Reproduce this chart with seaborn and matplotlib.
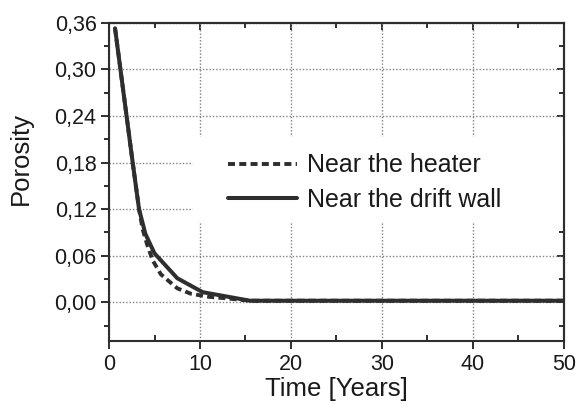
import matplotlib
matplotlib.use("Agg")
import matplotlib.pyplot as plt
import seaborn as sns
from matplotlib.patches import Rectangle
from matplotlib.ticker import MultipleLocator

# Porosity evolution of the buffer over time (years)
heater_t = [0.66, 2.6, 3.3, 3.7, 4.2, 4.8, 5.7, 7.5, 9.0, 11.0, 13.0, 15.5, 50.0]
heater_p = [0.353, 0.18, 0.12, 0.094, 0.074, 0.054, 0.036, 0.018, 0.011, 0.007, 0.005, 0.002, 0.002]

wall_t = [0.66, 2.6, 3.3, 4.0, 5.0, 7.5, 10.3, 15.5, 50.0]
wall_p = [0.353, 0.18, 0.12, 0.088, 0.063, 0.031, 0.013, 0.002, 0.002]

series_labels = ["Near the heater", "Near the drift wall"]
x_ticks = [0, 10, 20, 30, 40, 50]
y_ticks = [0.00, 0.06, 0.12, 0.18, 0.24, 0.30, 0.36]
y_tick_labels = [f"{v:.2f}".replace(".", ",") for v in y_ticks]

sns.set_theme(style="ticks")
plt.rcParams["font.family"] = ["Liberation Sans", "DejaVu Sans"]

ink = "#2e2e2e"
text_color = "#1a1a1a"

fig = plt.figure(figsize=(5.8, 4.08), dpi=100)
ax = fig.add_axes([0.188, 0.164, 0.784, 0.780])
ax.set_axisbelow(True)
ax.grid(True, which="major", color="#808080", linestyle=(0, (1, 1.4)), linewidth=1.0)

sns.lineplot(x=heater_t, y=heater_p, ax=ax, color=ink, linewidth=2.8,
             linestyle=(0, (1.8, 1.1)), zorder=3, legend=False)
sns.lineplot(x=wall_t, y=wall_p, ax=ax, color=ink, linewidth=2.9,
             zorder=4, legend=False)

# white panel behind the legend text (hides the grid there)
ax.add_patch(Rectangle((9.2, 0.1016), 41.0, 0.111, facecolor="white",
                       edgecolor="none", zorder=1))

ax.legend(handles=ax.lines[:2], labels=series_labels, loc="upper left",
          bbox_to_anchor=(0.2615, 0.590), frameon=False, borderpad=0,
          borderaxespad=0, handlelength=2.76, handletextpad=0.4,
          labelspacing=0.42, fontsize=18, labelcolor=text_color)

ax.set_xlim(0, 50)
ax.set_ylim(-0.05, 0.36)
ax.set_xticks(x_ticks)
ax.set_yticks(y_ticks)
ax.set_yticklabels(y_tick_labels)
ax.xaxis.set_minor_locator(MultipleLocator(5))
ax.yaxis.set_minor_locator(MultipleLocator(0.03))

ax.tick_params(axis="both", which="major", direction="out", length=6, width=1.4,
               labelsize=15.5, colors=text_color, color=ink)
ax.tick_params(axis="x", which="major", pad=3)
ax.tick_params(axis="y", which="major", pad=3)
ax.tick_params(axis="x", which="minor", direction="in", length=4, width=1.4, color=ink)
ax.tick_params(axis="y", which="minor", direction="out", length=3.5, width=1.4, color=ink)

for spine in ax.spines.values():
    spine.set_linewidth(1.5)
    spine.set_color(ink)

# inward ticks along the top and right edges
top = ax.secondary_xaxis("top")
top.set_xticks(x_ticks)
top.xaxis.set_minor_locator(MultipleLocator(5))
top.tick_params(axis="x", which="both", direction="in", labeltop=False, width=1.4, color=ink)
top.tick_params(axis="x", which="major", length=5)
top.tick_params(axis="x", which="minor", length=3.5)
top.spines["top"].set_linewidth(1.5)
top.spines["top"].set_color(ink)

right = ax.secondary_yaxis("right")
right.set_yticks(y_ticks)
right.yaxis.set_minor_locator(MultipleLocator(0.03))
right.tick_params(axis="y", which="both", direction="in", labelright=False, width=1.4, color=ink)
right.tick_params(axis="y", which="major", length=5)
right.tick_params(axis="y", which="minor", length=3.5)
right.spines["right"].set_linewidth(1.5)
right.spines["right"].set_color(ink)

ax.set_xlabel("Time [Years]", fontsize=18.5, color=text_color, labelpad=2)
ax.set_ylabel("Porosity", fontsize=18.5, color=text_color)
ax.yaxis.set_label_coords(-0.167, 0.575)

fig.savefig("out.png", dpi=100)
